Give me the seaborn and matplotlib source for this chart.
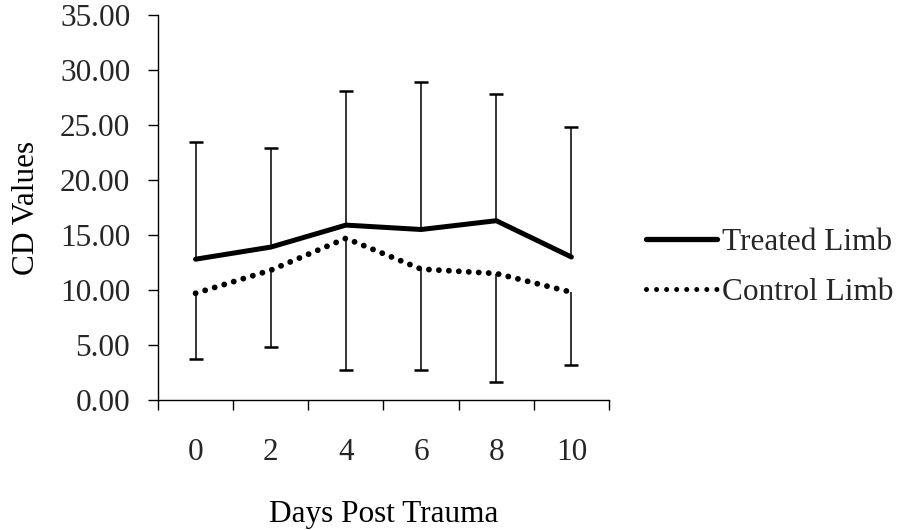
import matplotlib
matplotlib.use("Agg")
import matplotlib.pyplot as plt
import seaborn as sns
import numpy as np
import pandas as pd
from matplotlib.lines import Line2D
from matplotlib.ticker import FixedLocator, StrMethodFormatter

days = ["0", "2", "4", "6", "8", "10"]
treated = [12.8, 13.9, 15.9, 15.5, 16.3, 13.0]
control = [9.7, 11.8, 14.7, 11.9, 11.5, 9.8]
treated_upper = [23.5, 22.9, 28.1, 28.9, 27.8, 24.8]
control_lower = [3.7, 4.8, 2.7, 2.7, 1.6, 3.2]
series_names = ["Treated Limb", "Control Limb"]

sns.set_theme(style="white")
plt.rcParams["font.family"] = ["Liberation Serif", "DejaVu Serif"]
FS = 22.5

fig = plt.figure(figsize=(9.03, 5.30), dpi=100)
ax = fig.add_axes([158/903, 1 - 400/530, (609-158)/903, (400-15)/530])

pos = np.arange(len(days))
df = pd.DataFrame({
    "pos": np.concatenate([pos, pos]),
    "value": treated + control,
    "series": [series_names[0]]*len(days) + [series_names[1]]*len(days),
})

# error bar stems (one-sided)
ax.vlines(pos, treated, treated_upper, color="black", lw=1.1, zorder=1)
ax.vlines(pos, control_lower, control, color="black", lw=1.1, zorder=1)
# caps only at the far ends
ax.plot(pos, treated_upper, ls="none", marker="_", ms=9.5, mew=1.8, color="black", zorder=1)
ax.plot(pos, control_lower, ls="none", marker="_", ms=9.5, mew=1.8, color="black", zorder=1)

sns.lineplot(data=df[df.series == series_names[0]], x="pos", y="value", ax=ax,
             color="black", lw=3.6, legend=False, zorder=3)
n_before = len(ax.lines)
sns.lineplot(data=df[df.series == series_names[1]], x="pos", y="value", ax=ax,
             color="black", lw=4.2, legend=False, zorder=3)
for ln in ax.lines[n_before:]:
    ln.set_linestyle((0, (0.01, 1.7)))
    ln.set_dash_capstyle("round")

ax.set_xlim(-0.5, 5.5)
ax.set_ylim(0, 35)
ax.yaxis.set_major_locator(FixedLocator(np.arange(0, 35.1, 5)))
ax.yaxis.set_major_formatter(StrMethodFormatter("{x:.2f}"))
ax.set_xticks(pos)
ax.set_xticklabels(days)
ax.xaxis.set_minor_locator(FixedLocator(np.arange(-0.5, 5.6, 1)))
ax.tick_params(axis="x", which="major", length=0, pad=27, labelsize=FS)
ax.tick_params(axis="x", which="minor", length=7, width=1, direction="out", bottom=True, color="black")
ax.tick_params(axis="y", which="major", length=7, width=1, direction="out", left=True,
               labelsize=FS, pad=13, color="black")

for s in ["top", "right"]:
    ax.spines[s].set_visible(False)
for s in ["left", "bottom"]:
    ax.spines[s].set_color("black")
    ax.spines[s].set_linewidth(1.0)

ax.set_xlabel("Days Post Trauma", fontsize=FS, labelpad=24, color="black")
ax.set_ylabel("CD Values", fontsize=FS, labelpad=14, color="black")

handles = [
    Line2D([0], [0], color="black", lw=3.8),
    Line2D([0], [0], color="black", lw=3.6, linestyle=(0, (0.01, 2.0)), dash_capstyle="round"),
]
ax.legend(handles, series_names, loc="center left", bbox_to_anchor=(1.082, 0.344),
          frameon=False, fontsize=FS, handlelength=2.27, handletextpad=0.17,
          labelspacing=0.65, borderpad=0, borderaxespad=0)

fig.savefig("out.png", dpi=100)
